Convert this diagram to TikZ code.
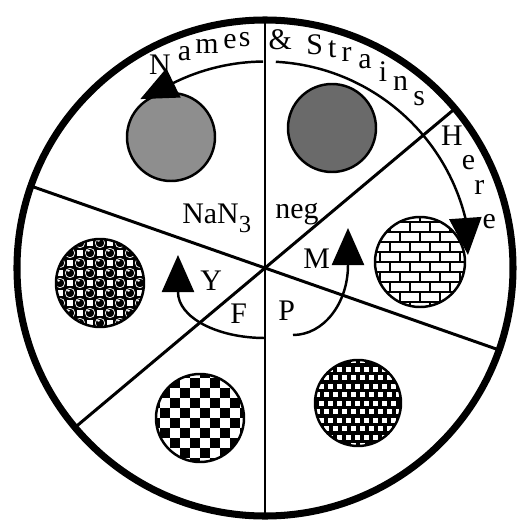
\documentclass[tikz,border=0pt]{standalone}
\usepackage{fontspec}
\setmainfont{Liberation Serif}
\usetikzlibrary{arrows.meta}
\definecolor{platelight}{HTML}{8E8E8E}
\definecolor{platedark}{HTML}{6A6A6A}
\tikzset{
  rim/.style={line width=4pt},
  cut/.style={line width=1.7pt},
  dish/.style={circle, draw, line width=1.4pt, minimum size=1.76cm, inner sep=0pt},
  sweep/.style={line width=1.4pt, -{Triangle[length=7.4mm, width=6.4mm]}},
  brk/.style={line width=1.1pt},
  lbl/.style={anchor=base west, inner sep=0pt},
  ch/.style={inner sep=0pt},
}
\begin{document}
\begin{tikzpicture}[font=\fontsize{17}{20}\selectfont]
  \useasboundingbox (-5.3,-5.14) rectangle (5.04,5.36);
  \coordinate (o) at (0,0);
  % sector cuts
  \draw[cut] (90:4.96) -- (270:4.96);
  \draw[cut] (160.7:4.96) -- (-19.3:4.96);
  \draw[cut] (40:4.96) -- (220:4.96);

  % plates
  \node[dish, fill=platelight] (azide) at (-1.88,2.62) {};
  \node[dish, fill=platedark] (negdish) at (1.34,2.80) {};
  \coordinate (ballsc) at (-3.30,-0.30);
  \coordinate (bricksc) at (3.10,0.12);
  \coordinate (checksc) at (-1.30,-3.00);
  \coordinate (dotsc) at (1.86,-2.70);

  \begin{scope}[shift={(ballsc)}]
    \clip (0,0) circle (0.88);
    \fill (0,0) circle (0.9);
    \foreach \i in {-5,...,5} \foreach \j in {-5,...,5} {
      \pgfmathtruncatemacro\pty{mod(\i+\j+20,2)}
      \ifnum\pty=1
        \fill[white] (\i*0.2-0.06,\j*0.2-0.06) rectangle ++(0.12,0.12);
      \else
        \filldraw[fill=black, draw=white, line width=0.4pt] (\i*0.2,\j*0.2) circle (0.095);
        \fill[white] (\i*0.2-0.03,\j*0.2+0.045) ellipse (0.035 and 0.018);
      \fi
    }
  \end{scope}
  \node[dish] (balls) at (ballsc) {};

  \begin{scope}[shift={(bricksc)}]
    \clip (0,0) circle (0.9);
    \foreach \j in {-5,...,4} {
      \draw[brk] (-1,\j*0.2) -- (1,\j*0.2);
      \foreach \i in {-6,...,6} \draw[brk] (\i*0.4+\j*0.2,\j*0.2) -- ++(0,0.2);
    }
  \end{scope}
  \node[dish, minimum size=1.8cm] (bricks) at (bricksc) {};

  \begin{scope}[shift={(checksc)}]
    \clip (0,0) circle (0.88);
    \foreach \i in {-5,...,4} \foreach \j in {-5,...,4} {
      \pgfmathtruncatemacro\pty{mod(\i+\j+20,2)}
      \ifnum\pty=0 \fill (\i*0.2,\j*0.2) rectangle ++(0.2,0.2); \fi
    }
  \end{scope}
  \node[dish] (checks) at (checksc) {};

  \begin{scope}[shift={(dotsc)}]
    \clip (0,0) circle (0.86);
    \fill (0,0) circle (0.9);
    \foreach \i in {-8,...,8} \foreach \j in {-6,...,6}
      \fill[white] (\i*0.18+\j*0.09-0.05,\j*0.17-0.05) rectangle ++(0.1,0.1);
  \end{scope}
  \node[dish, minimum size=1.72cm] (dots) at (dotsc) {};

  % arrows
  \draw[sweep] (90.5:4.13) arc[start angle=90.5, end angle=116.3, radius=4.13] -- ++(206:0.74);
  \draw[sweep] (87:4.13) arc[start angle=87, end angle=14, radius=4.13] -- ++(-86:0.74);
  \draw[sweep] (0,-1.40) arc[start angle=270, end angle=180, x radius=1.74, y radius=0.92] -- ++(0,0.74);
  \draw[sweep] (0.56,-1.34) arc[start angle=270, end angle=360, x radius=1.10, y radius=1.40] -- ++(0,0.74);

  % lettering round the rim
  \foreach \a/\ch [count=\k] in {117.3/N, 110.6/a, 104.7/m, 98.8/e, 95.1/s, 86.2/\&, 77.5/S, 72.9/t, 69.1/r, 64.1/a, 59.0/i, 53.7/n, 47.7/s, 35.3/H, 27.3/e, 20.6/r, 11.7/e}
    \node[ch] (tag\k) at (\a:4.58) {\ch};

  \node[lbl] (nan3) at (-1.66,0.90) {NaN\raisebox{-5.5pt}{\fontsize{14}{14}\selectfont 3}};
  \node[lbl] (neg) at (0.20,1.00) {neg};
  \node[lbl] (m) at (0.76,0.0) {M};
  \node[lbl] (y) at (-1.30,-0.44) {Y};
  \node[lbl] (f) at (-0.70,-1.10) {F};
  \node[lbl] (p) at (0.26,-1.04) {P};

  \draw[rim] (o) circle (4.96);
\end{tikzpicture}
\end{document}
